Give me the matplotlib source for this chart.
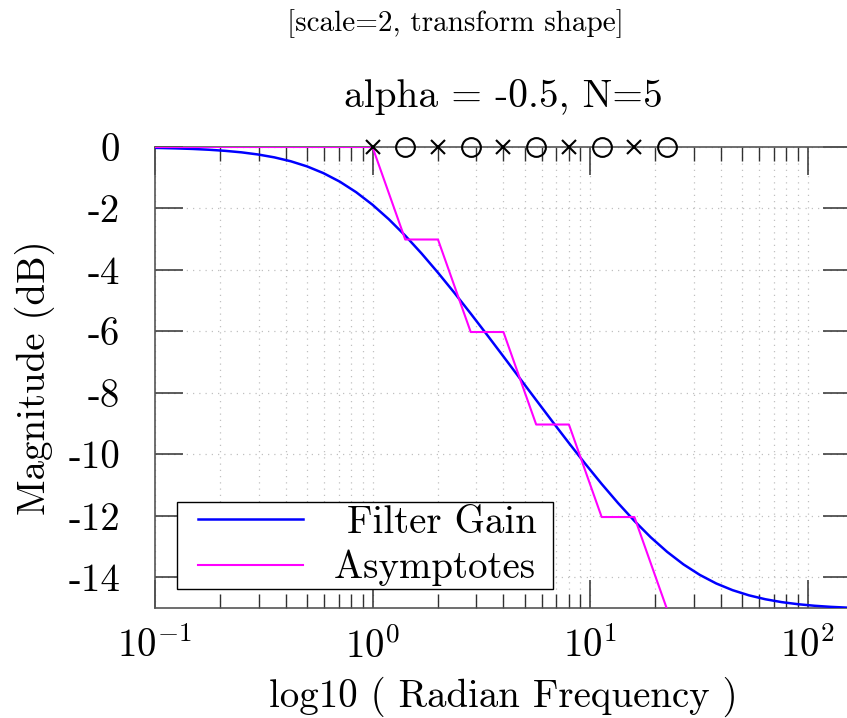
import matplotlib
matplotlib.use("Agg")
import matplotlib.pyplot as plt
from matplotlib.ticker import FixedLocator, LogLocator, NullFormatter, FixedFormatter
from matplotlib.legend_handler import HandlerLine2D
from matplotlib.lines import Line2D

plt.rcParams['font.family'] = 'cmr10'
plt.rcParams['mathtext.fontset'] = 'cm'
plt.rcParams['axes.unicode_minus'] = False
plt.rcParams['axes.formatter.use_mathtext'] = True

# ---------------- data ----------------
title = "alpha = -0.5, N=5"
header = "[scale=2, transform shape]"
xlabel = "log10 ( Radian Frequency )"
ylabel = "Magnitude (dB)"

# Filter gain curve (frequency, dB)
gain_freq = [0.0884, 0.1051, 0.125, 0.1487, 0.1768, 0.2102, 0.25, 0.2973, 0.3536,
             0.4204, 0.5, 0.5946, 0.7071, 0.8409, 1.0, 1.1892, 1.4142, 1.6818, 2.0,
             2.3784, 2.8284, 3.3636, 4.0, 4.7568, 5.6569, 6.7272, 8.0, 9.5137, 11.3137,
             13.4543, 16.0, 19.0273, 22.6274, 26.9087, 32.0, 38.0546, 45.2548, 53.8174,
             64.0, 76.1093, 90.5097, 107.635, 128.0, 152.219, 181.019]
gain_db = [-0.023, -0.032, -0.045, -0.063, -0.089, -0.125, -0.174, -0.243, -0.337,
           -0.463, -0.631, -0.850, -1.127, -1.470, -1.879, -2.352, -2.884, -3.466,
           -4.089, -4.743, -5.420, -6.113, -6.817, -7.526, -8.234, -8.938, -9.632,
           -10.309, -10.963, -11.585, -12.167, -12.700, -13.173, -13.582, -13.924,
           -14.202, -14.420, -14.588, -14.715, -14.809, -14.877, -14.927, -14.963,
           -14.988, -15.007]

# Straight-line asymptotes
asym_freq = [0.1, 1.0, 1.4142, 2.0, 2.8284, 4.0, 5.6569, 8.0, 11.3137, 16.0, 22.6274, 200.0]
asym_db = [0.0, 0.0, -3.01, -3.01, -6.02, -6.02, -9.03, -9.03, -12.04, -12.04, -15.05, -15.05]

# Poles (x) and zeros (o) shown on the 0 dB line
pole_freq = [1.0, 2.0, 4.0, 8.0, 16.0]
zero_freq = [1.4142, 2.8284, 5.6569, 11.3137, 22.6274]

yticks = [0, -2, -4, -6, -8, -10, -12, -14]
ytick_labels = ['0', '-2', '-4', '-6', '-8', '-10', '-12', '-14']
xticks = [0.1, 1, 10, 100]
xtick_labels = [r'$10^{-1}$', r'$10^{0}$', r'$10^{1}$', r'$10^{2}$']
legend_labels = [' Filter Gain ', 'Asymptotes ']

# ---------------- figure ----------------
W, H = 847, 718
fig = plt.figure(figsize=(W / 100, H / 100), dpi=100)
ax_l, ax_r, ax_t, ax_b = 155, 851, 147, 608
ax = fig.add_axes([ax_l / W, 1 - ax_b / H, (ax_r - ax_l) / W, (ax_b - ax_t) / H])

ax.set_xscale('log')
ax.set_xlim(0.1, 10 ** 2.2)
ax.set_ylim(-15, 0)

l1, = ax.plot(gain_freq, gain_db, color='#0000ff', lw=1.8, label=legend_labels[0], zorder=3)
l2, = ax.plot(asym_freq, asym_db, color='#ff00ff', lw=1.5, label=legend_labels[1], zorder=3)
ax.plot(pole_freq, [0] * len(pole_freq), linestyle='none', marker='x', ms=10.5,
        mew=1.5, color='black', clip_on=False, zorder=5)
ax.plot(zero_freq, [0] * len(zero_freq), linestyle='none', marker='o', ms=13.5,
        mew=1.5, mfc='none', mec='black', clip_on=False, zorder=5)

# ticks
ax.xaxis.set_major_locator(FixedLocator(xticks))
ax.xaxis.set_major_formatter(FixedFormatter(xtick_labels))
ax.xaxis.set_minor_locator(LogLocator(base=10, subs=[2, 3, 4, 5, 6, 7, 8, 9], numticks=20))
ax.xaxis.set_minor_formatter(NullFormatter())
ax.yaxis.set_major_locator(FixedLocator(yticks))
ax.yaxis.set_major_formatter(FixedFormatter(ytick_labels))

ax.tick_params(which='both', direction='in', top=True, right=True, color='#303030')
ax.tick_params(which='major', length=20, width=1.1, labelsize=28, pad=25)
ax.tick_params(which='minor', length=10, width=1.0)
ax.tick_params(axis='x', which='major', pad=14)

for s in ax.spines.values():
    s.set_color('#555555')
    s.set_linewidth(1.2)

ax.grid(True, which='both', axis='x', linestyle=(0, (1, 4)), color='#c0c0c0', lw=0.9)
ax.grid(True, which='major', axis='y', linestyle=(0, (1, 4)), color='#c0c0c0', lw=0.9)
ax.set_axisbelow(True)

ax.set_title(title, fontsize=28.4, pad=28.5)
ax.set_xlabel(xlabel, fontsize=28, labelpad=8)
ax.set_ylabel(ylabel, fontsize=28, labelpad=10)

fig.text(455 / W, 1 - 31 / H, header, fontsize=21, ha='center', va='baseline')

hmap = {l1: HandlerLine2D(xpad=0.46), l2: HandlerLine2D(xpad=0.46)}
leg = ax.legend(handles=[l1, l2], handler_map=hmap,
                loc='lower left', bbox_to_anchor=((177 - ax_l) / (ax_r - ax_l), (ax_b - 589) / (ax_b - ax_t)),
                borderaxespad=0, fontsize=28, frameon=True, fancybox=False,
                edgecolor='black', framealpha=1, handlelength=3.16, handletextpad=0.82,
                borderpad=0.07, labelspacing=0.23)
leg.get_frame().set_linewidth(1.0)

fig.savefig('out.png', dpi=100)
